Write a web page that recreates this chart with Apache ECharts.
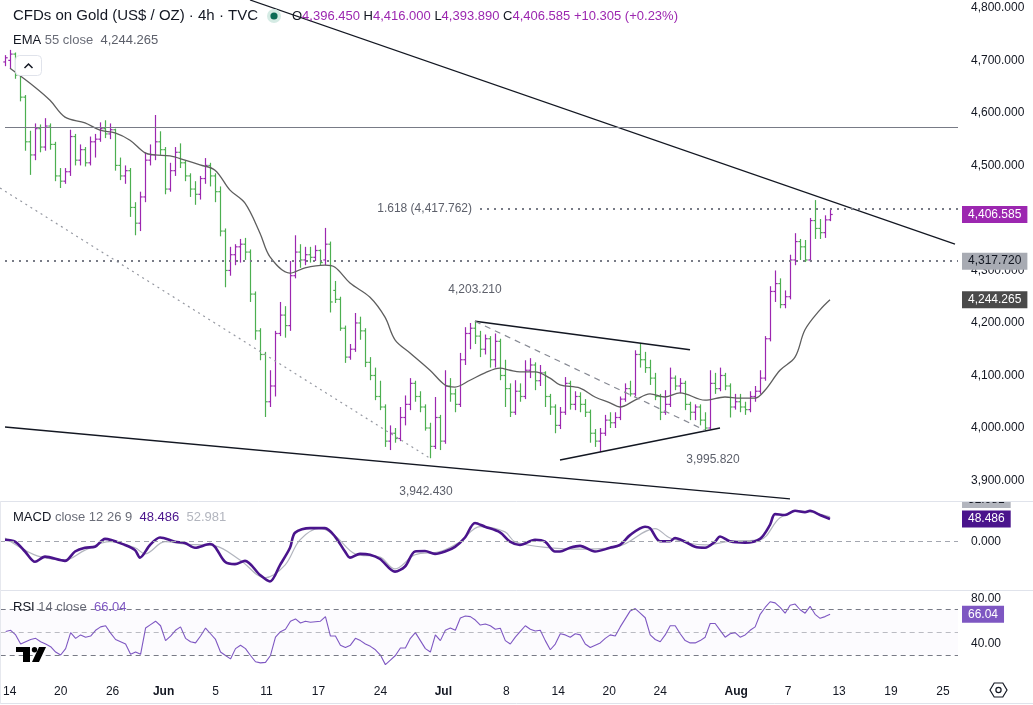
<!DOCTYPE html>
<html><head><meta charset="utf-8">
<script src="https://cdn.jsdelivr.net/npm/echarts@6/dist/echarts.min.js"></script>
<style>html,body{margin:0;padding:0;background:#fff}#c{width:1033px;height:705px}</style>
</head><body><div id="c"></div>
<script>
// ---------- DATA ----------
// 4h-style bars (open, close, low, high), one per time step
const bars = [
[4697,4705,4689,4710],[4700,4712,4684,4720],[4712,4672,4665,4715],[4672,4630,4622,4676],[4630,4545,4528,4634],[4545,4520,4482,4566],[4520,4570,4510,4580],[4570,4535,4525,4578],[4535,4575,4528,4590],[4575,4540,4530,4580],
[4540,4480,4470,4545],[4480,4470,4457,4495],[4470,4488,4465,4495],[4488,4555,4480,4568],[4555,4510,4500,4560],[4510,4530,4500,4540],[4530,4505,4498,4535],[4505,4545,4500,4555],[4545,4550,4515,4560],[4550,4570,4545,4582],
[4570,4560,4552,4586],[4560,4568,4550,4580],[4568,4500,4490,4570],[4500,4480,4472,4515],[4480,4490,4465,4500],[4490,4420,4402,4495],[4420,4390,4367,4430],[4390,4440,4375,4450],[4440,4510,4430,4525],[4510,4520,4500,4540],
[4520,4545,4510,4596],[4545,4530,4520,4565],[4530,4455,4445,4535],[4455,4490,4450,4505],[4490,4525,4480,4535],[4525,4505,4495,4542],[4505,4480,4470,4510],[4480,4455,4440,4485],[4455,4445,4425,4470],[4445,4475,4435,4480],
[4475,4500,4465,4514],[4500,4480,4460,4505],[4480,4450,4430,4485],[4450,4375,4365,4460],[4375,4300,4268,4380],[4300,4330,4290,4345],[4330,4345,4310,4350],[4345,4350,4315,4360],[4350,4335,4320,4362],[4335,4255,4240,4340],
[4255,4185,4168,4260],[4185,4140,4129,4190],[4140,4050,4021,4145],[4050,4080,4040,4110],[4080,4180,4060,4185],[4180,4215,4175,4240],[4215,4195,4172,4232],[4195,4290,4185,4318],[4290,4335,4285,4367],[4335,4320,4305,4350],
[4320,4330,4310,4345],[4330,4325,4315,4345],[4325,4338,4318,4348],[4338,4315,4310,4340],[4320,4350,4310,4381],[4350,4240,4220,4355],[4262,4245,4238,4280],[4245,4190,4185,4250],[4190,4135,4124,4195],[4135,4150,4130,4160],
[4150,4200,4145,4219],[4200,4185,4168,4212],[4185,4125,4116,4190],[4125,4100,4091,4135],[4100,4060,4053,4115],[4060,4040,4034,4090],[4040,3975,3964,4045],[3975,3990,3958,4005],[3990,3980,3972,4000],[3980,4020,3975,4040],
[4020,4045,4005,4062],[4045,4085,4034,4095],[4085,4060,4050,4090],[4060,4040,4030,4070],[4040,4000,3995,4045],[4000,3965,3942.43,4010],[3965,4020,3960,4059],[4020,3975,3958,4025],[3975,4080,3970,4110],[4080,4065,4050,4095],
[4065,4045,4030,4075],[4045,4130,4040,4143],[4130,4180,4120,4192],[4180,4190,4150,4200],[4190,4175,4160,4203.21],[4175,4150,4135,4185],[4150,4170,4140,4178],[4170,4130,4115,4175],[4130,4165,4115,4180],[4165,4100,4091,4170],
[4100,4075,4040,4130],[4075,4030,4021,4085],[4030,4070,4025,4091],[4070,4060,4050,4085],[4060,4110,4055,4129],[4110,4120,4095,4133],[4120,4090,4072,4125],[4090,4105,4080,4120],[4105,4060,4040,4108],[4060,4040,4025,4065],
[4040,4005,3990,4045],[4005,4030,3998,4040],[4030,4085,4025,4097],[4085,4045,4035,4090],[4045,4060,4034,4070],[4060,4045,4030,4068],[4045,4030,4021,4055],[4030,3990,3972,4035],[3990,3975,3964,3998],[3975,3990,3954,4000],
[3990,4015,3985,4025],[4015,4010,4000,4030],[4010,4020,4000,4030],[4020,4055,4015,4060],[4055,4075,4050,4085],[4075,4065,4060,4090],[4065,4140,4060,4148],[4140,4130,4115,4162],[4130,4115,4105,4145],[4115,4095,4082,4130],
[4095,4060,4053,4105],[4060,4030,4015,4065],[4030,4045,4025,4072],[4045,4095,4040,4115],[4095,4080,4072,4100],[4080,4085,4066,4095],[4085,4045,4034,4090],[4045,4030,4015,4050],[4030,4040,4015,4045],[4040,4015,4005,4045],
[4015,4000,3995.82,4030],[4000,4085,3998,4110],[4085,4075,4065,4105],[4075,4100,4070,4115],[4100,4080,4072,4105],[4080,4040,4020,4085],[4040,4050,4035,4065],[4050,4040,4030,4065],[4040,4035,4025,4050],[4035,4060,4030,4070],
[4060,4070,4050,4080],[4070,4095,4065,4110],[4095,4170,4090,4175],[4170,4260,4165,4270],[4260,4275,4240,4300],[4275,4235,4228,4285],[4235,4250,4228,4262],[4250,4320,4245,4330],[4320,4355,4310,4371],[4355,4345,4320,4360],
[4345,4320,4316,4358],[4320,4395,4316,4400],[4395,4380,4360,4434],[4380,4372,4360,4398],[4372,4396.28,4362,4405],[4396.45,4406.585,4393.89,4416]
];
// EMA 55 readings [bar index, value]
const emaPts = [[1,4685],[6,4649],[9,4624],[12,4592],[16,4581],[19,4567],[22,4562],[25,4548],[28,4524],[30,4520],[33,4518],[36,4510],[39,4501],[42,4491],[45,4453],[48,4428],[51,4371],[53,4326],[57,4295],[60,4305],[64,4310],[66,4306],[69,4276],[73,4249],[76,4211],[78,4168],[81,4143],[85,4110],[88,4082],[90,4078],[93,4091],[96,4105],[99,4114],[101,4110],[103,4107],[106,4107],[109,4095],[111,4082],[115,4076],[118,4059],[121,4048],[123,4040],[126,4053],[129,4065],[132,4059],[135,4067],[140,4053],[144,4059],[147,4057],[150,4057],[152,4072],[155,4110],[158,4135],[160,4187],[163,4225],[165,4244.265]];
// MACD line and signal readings [bar index, value]
const macdPts = [[0,4],[2,0],[4,-21],[6,-43],[8,-32],[12,-41],[14,-21],[16,-13],[18,-11],[20,6],[24,-7],[26,-18],[27,-34],[29,-7],[31,9],[34,0],[36,-3],[38,-13],[41,-5],[42,-11],[44,-43],[46,-48],[48,-41],[51,-71],[53,-85],[55,-50],[57,-13],[58,19],[61,29],[64,29],[66,11],[68,-21],[69,-34],[71,-26],[73,-28],[75,-37],[78,-64],[80,-53],[82,-21],[84,-20],[86,-26],[88,-21],[90,-11],[92,9],[94,40],[96,32],[99,20],[101,0],[103,-7],[106,4],[108,0],[110,-21],[111,-21],[113,-13],[115,-9],[118,-21],[121,-13],[123,-7],[125,14],[128,32],[129,29],[131,1],[133,1],[134,8],[136,0],[138,-11],[140,-13],[142,0],[143,11],[145,1],[148,-2],[151,6],[153,36],[154,59],[156,57],[158,66],[160,63],[161,66],[163,57],[165,48.486]];
const signalPts = [[0,8],[4,-18],[7,-32],[12,-39],[16,-18],[21,0],[26,-13],[28,-26],[32,0],[36,-5],[42,-9],[47,-39],[52,-77],[56,-50],[59,4],[63,29],[66,13],[70,-26],[75,-33],[78,-58],[82,-28],[87,-21],[91,0],[95,32],[100,21],[102,0],[109,-13],[116,-16],[123,-9],[130,28],[133,8],[140,-7],[145,1],[151,4],[155,51],[159,66],[165,52.981]];
// RSI 14, one value per bar
const rsiVals = [
51,52,48,40,42,44,45,42,40,37.7,
33,30.4,36,50,45,48,46,47,52,55,
56,49.6,44,42,40,31,33,31,54,57,
60,56,43,47,52,55,45,42,41,47,
54,49,44,33,30,27,36,39,36,30,
24.5,23.5,24,30,46,50.8,53,60,62,58.4,
60,59,59.5,60,64,47,47,39,37,39,
45,43,40,38,35,30.4,22,26,30,36.5,
36.5,45,50,43,36,33,48,43,52,54,
52,62.8,64.5,64,61,56.6,57.5,56,53,53.8,
43,40,46,51,56,53,51.4,52,43,35,
40,49,48,46,49,48,40,37,39,41,
45,48,47,55,62,69,71,67,63,48,
44,42,48,56,56,49,43,41,41,43,
46,58,58,52,46,49,50,46,48,52,
55,66,72,77,76,72,67,74,75,70,
67,73,66,62.5,64,66.04
];
// time axis labels at bar positions
const xTickPos = [0.8, 11, 21.4, 31.6, 42, 52.2, 62.6, 75, 87.6, 100.2, 110.6, 120.8, 131, 146.2, 156.6, 166.8, 177.2, 187.6];
const xTickText = ['14','20','26','Jun','5','11','17','24','Jul','8','14','20','24','Aug','7','13','19','25'];
const priceTicks = [3900,4000,4100,4200,4300,4400,4500,4600,4700,4800];
const macdTicks = [0];
const rsiTicks = [40,80];
// annotation levels
const resistanceLevel = 4573;
const fibLevel = 4417.762;
const supportLevel = 4317.72;
const swingHigh = [94, 4203.21];
const swingLow = [85, 3942.43];
const triangleLow = [140, 3995.82];
const topTrend = [[49, 4815], [190, 4350]];
const bottomTrend = [[0, 4002], [157, 3865]];
const channelDotted = [[-1, 4457], [85, 3942.43]];
const triUpper = [[94, 4203.21], [137, 4149]];
const triLower = [[111, 3939], [143, 4000]];
const triDashed = [[94, 4203.21], [140, 3995.82]];

// ---------- CHART ----------
const FONT = "'Liberation Sans', Arial, sans-serif";
const TXT = '#131722';
const UP = '#9c27b0', DOWN = '#4caf50';
const X_MIN = -1, X_MAX = 190.6;
const fmt = (v, d) => v.toLocaleString('en-US', {minimumFractionDigits: d, maximumFractionDigits: d});

const last = bars[bars.length - 1], prev = bars[bars.length - 2];
const chg = last[1] - prev[1];
const pct = chg / prev[1] * 100;
const lastEma = emaPts[emaPts.length - 1][1];
const lastMacd = macdPts[macdPts.length - 1][1];
const lastSignal = signalPts[signalPts.length - 1][1];
const lastRsi = rsiVals[rsiVals.length - 1];

function renderOHLC(params, api) {
  const i = api.value(0), o = api.value(1), c = api.value(2), l = api.value(3), h = api.value(4);
  const pH = api.coord([i, h]), pL = api.coord([i, l]), pO = api.coord([i, o]), pC = api.coord([i, c]);
  const x = Math.round(pH[0]) + 0.5;
  const col = c >= o ? UP : DOWN;
  return {type: 'group', children: [
    {type: 'line', shape: {x1: x, y1: pH[1], x2: x, y2: pL[1]}, style: {stroke: col, lineWidth: 1.2}},
    {type: 'line', shape: {x1: x - 2.2, y1: pO[1], x2: x, y2: pO[1]}, style: {stroke: col, lineWidth: 1.2}},
    {type: 'line', shape: {x1: x, y1: pC[1], x2: x + 2.2, y2: pC[1]}, style: {stroke: col, lineWidth: 1.2}}
  ]};
}

function xAxis(g, show) {
  return {type: 'value', gridIndex: g, min: X_MIN, max: X_MAX,
    axisLine: {show: false}, axisTick: {show: false}, splitLine: {show: false},
    axisLabel: show ? {customValues: xTickPos, margin: 8, color: TXT, fontSize: 12, fontFamily: FONT,
      formatter: v => { const k = xTickPos.findIndex(p => Math.abs(p - v) < 1e-6); const t = xTickText[k] || '';
        return /^[A-Z]/.test(t) ? '{m|' + t + '}' : t; },
      rich: {m: {fontWeight: 'bold', fontSize: 12, color: TXT, fontFamily: FONT}}} : {show: false}};
}
function yAxis(g, min, max, ticks, dec) {
  return {type: 'value', gridIndex: g, position: 'right', min: min, max: max,
    axisLine: {show: false}, axisTick: {show: false}, splitLine: {show: false},
    axisLabel: {customValues: ticks, margin: 13, color: TXT, fontSize: 12, fontFamily: FONT, formatter: v => fmt(v, dec)}};
}
function boxLabel(text, bg, fg) {
  return {show: true, position: 'end', distance: 4, formatter: text, backgroundColor: bg, color: fg,
    padding: [2, 6, 2, 6], fontSize: 12, lineHeight: 13, fontFamily: FONT};
}
const rs = (color) => ({color: color, fontSize: 13, fontFamily: FONT, fontWeight: 'normal'});
const black = {color: TXT, width: 1.3, type: 'solid'};
const seg = (pts, ls, label) => [{coord: pts[0], lineStyle: ls, label: label || {show: false}}, {coord: pts[1]}];

const option = {
  animation: false,
  backgroundColor: '#ffffff',
  textStyle: {fontFamily: FONT},
  title: [
    {left: 13, top: 8, padding: 0, text: 'CFDs on Gold (US$ / OZ) · 4h · TVC', textStyle: {fontSize: 15, fontWeight: 'normal', color: TXT, fontFamily: FONT}},
    {left: 292, top: 10, padding: 0,
      text: '{k|O}{v|' + fmt(last[0], 3) + '} {k|H}{v|' + fmt(last[3], 3) + '} {k|L}{v|' + fmt(last[2], 3) + '} {k|C}{v|' + fmt(last[1], 3) + '} {v|' + (chg >= 0 ? '+' : '') + fmt(chg, 3) + ' (' + (pct >= 0 ? '+' : '') + fmt(pct, 2) + '%)}',
      textStyle: {fontSize: 13, fontWeight: 'normal', rich: {k: rs(TXT), v: rs(UP)}}},
    {left: 13, top: 34, padding: 0, text: '{k|EMA} {p|55 close}  {v|' + fmt(lastEma, 3) + '}',
      textStyle: {fontSize: 13, fontWeight: 'normal', rich: {k: rs(TXT), p: rs('#6a6d78'), v: rs('#5d606b')}}},
    {left: 13, top: 511, padding: 0, text: '{k|MACD} {p|close 12 26 9}  {m|' + fmt(lastMacd, 3) + '}  {s|' + fmt(lastSignal, 3) + '}',
      textStyle: {fontSize: 13, fontWeight: 'normal', rich: {k: rs(TXT), p: rs('#6a6d78'), m: rs('#4a148c'), s: rs('#b2b5be')}}},
    {left: 13, top: 601, padding: 0, text: '{k|RSI} {p|14 close}  {r|' + fmt(lastRsi, 2) + '}',
      textStyle: {fontSize: 13, fontWeight: 'normal', rich: {k: rs(TXT), p: rs('#6a6d78'), r: rs('#7e57c2')}}}
  ],
  grid: [
    {left: 0, right: 75, top: 0, height: 501},
    {left: 0, right: 75, top: 502, height: 88},
    {left: 0, right: 75, top: 591, height: 87}
  ],
  xAxis: [xAxis(0, false), xAxis(1, false), xAxis(2, true)],
  yAxis: [yAxis(0, 3861, 4815, priceTicks, 3), yAxis(1, -103.2, 84.8, macdTicks, 3), yAxis(2, 10.3, 86.4, rsiTicks, 2)],
  series: [
    {type: 'custom', name: 'bars', xAxisIndex: 0, yAxisIndex: 0, z: 2, clip: true,
      renderItem: renderOHLC, encode: {x: 0, y: [1, 2, 3, 4]},
      data: bars.map((b, i) => [i, b[0], b[1], b[2], b[3]])},
    {type: 'line', name: 'EMA', xAxisIndex: 0, yAxisIndex: 0, z: 3, data: emaPts, smooth: 0.35, symbol: 'none',
      lineStyle: {color: '#5e5e5e', width: 1.3},
      markLine: {symbol: ['none', 'none'], silent: true, animation: false, z: 4,
        data: [
          seg(topTrend, black),
          seg(bottomTrend, {color: TXT, width: 1.4, type: 'solid'}),
          seg(channelDotted, {color: '#9598a1', width: 1.2, type: [2, 4]}),
          seg(triUpper, {color: TXT, width: 1.5, type: 'solid'}),
          seg(triLower, {color: TXT, width: 1.5, type: 'solid'}),
          seg(triDashed, {color: '#868993', width: 1.2, type: [6, 5]}),
          seg([[0, resistanceLevel], [X_MAX, resistanceLevel]], {color: '#787b86', width: 1.2, type: 'solid'}),
          seg([[95, fibLevel], [X_MAX, fibLevel]], {color: '#787b86', width: 2, type: [2, 5]},
            {show: true, position: 'start', distance: 8, formatter: '1.618 (' + fmt(fibLevel, 3) + ')', color: '#5d606b', fontSize: 12, fontFamily: FONT}),
          seg([[0, supportLevel], [X_MAX, supportLevel]], {color: '#787b86', width: 2, type: [2, 5]},
            boxLabel(fmt(supportLevel, 3), '#a8abb3', TXT)),
          {yAxis: lastEma, lineStyle: {color: 'transparent', width: 0}, label: boxLabel(fmt(lastEma, 3), '#4a4a4a', '#ffffff')},
          {yAxis: last[1], lineStyle: {color: 'transparent', width: 0}, label: boxLabel(fmt(last[1], 3), UP, '#ffffff')}
        ]},
      markPoint: {symbol: 'circle', symbolSize: 0, silent: true, animation: false,
        data: [
          {coord: swingHigh, label: {show: true, formatter: fmt(swingHigh[1], 3), offset: [0, -32], color: '#5d606b', fontSize: 12, fontFamily: FONT}},
          {coord: triangleLow, label: {show: true, formatter: fmt(triangleLow[1], 3), offset: [8, 29], color: '#5d606b', fontSize: 12, fontFamily: FONT}},
          {coord: swingLow, label: {show: true, formatter: fmt(swingLow[1], 3), offset: [-4, 33], color: '#5d606b', fontSize: 12, fontFamily: FONT}}
        ]}
    },
    {type: 'line', name: 'Signal', xAxisIndex: 1, yAxisIndex: 1, data: signalPts, smooth: 0.35, symbol: 'none',
      lineStyle: {color: '#b2b5be', width: 1.2}, z: 2},
    {type: 'line', name: 'MACD', xAxisIndex: 1, yAxisIndex: 1, data: macdPts, smooth: 0.3, symbol: 'none',
      lineStyle: {color: '#4a148c', width: 2.6}, z: 3,
      markLine: {symbol: ['none', 'none'], silent: true, animation: false,
        data: [
          {yAxis: 0, lineStyle: {color: '#a3a6af', width: 1, type: [5, 4]}, label: {show: false}},
          {yAxis: lastMacd, lineStyle: {color: 'transparent', width: 0}, label: boxLabel(fmt(lastMacd, 3), '#4a148c', '#ffffff')}
        ]}},
    {type: 'line', name: 'RSI', xAxisIndex: 2, yAxisIndex: 2, data: rsiVals.map((v, i) => [i, v]), symbol: 'none',
      lineStyle: {color: '#7e57c2', width: 1.1}, z: 3,
      markArea: {silent: true, itemStyle: {color: 'rgba(126,87,194,0.025)'}, data: [[{yAxis: 30}, {yAxis: 70}]]},
      markLine: {symbol: ['none', 'none'], silent: true, animation: false,
        data: [
          {yAxis: 70, lineStyle: {color: '#787b86', width: 1, type: [5, 4]}, label: {show: false}},
          {yAxis: 50, lineStyle: {color: 'rgba(120,123,134,0.5)', width: 1, type: [5, 4]}, label: {show: false}},
          {yAxis: 30, lineStyle: {color: '#787b86', width: 1, type: [5, 4]}, label: {show: false}},
          {yAxis: lastRsi, lineStyle: {color: 'transparent', width: 0}, label: boxLabel(fmt(lastRsi, 2), '#7e57c2', '#ffffff')}
        ]}}
  ],
  graphic: [
    // signal value box (mostly hidden under pane edge)
    {type: 'text', left: 962, top: 492, z: 50, style: {text: fmt(lastSignal, 3), fill: TXT, backgroundColor: '#b2b5be', padding: [2, 6, 2, 6], font: '12px ' + FONT}},
    {type: 'rect', shape: {x: 959, y: 487, width: 74, height: 14.5}, style: {fill: '#ffffff'}, z: 51},
    // pane separators and borders
    {type: 'line', shape: {x1: 0, y1: 501.5, x2: 1033, y2: 501.5}, style: {stroke: '#e0e3eb', lineWidth: 1}, z: 52},
    {type: 'line', shape: {x1: 0, y1: 590.5, x2: 1033, y2: 590.5}, style: {stroke: '#e0e3eb', lineWidth: 1}, z: 52},
    {type: 'line', shape: {x1: 0, y1: 703.5, x2: 1033, y2: 703.5}, style: {stroke: '#e0e3eb', lineWidth: 1}, z: 52},
    {type: 'line', shape: {x1: 0.5, y1: 501, x2: 0.5, y2: 704}, style: {stroke: '#e6e8ee', lineWidth: 1}, z: 52},
    // status dot
    {type: 'circle', shape: {cx: 274, cy: 16, r: 7}, style: {fill: '#d5ebe4'}, z: 52},
    {type: 'circle', shape: {cx: 274, cy: 16, r: 3.6}, style: {fill: '#0b6b55'}, z: 53},
    // collapse button
    {type: 'rect', shape: {x: 15.5, y: 55.5, width: 26, height: 20, r: 4}, style: {fill: '#ffffff', stroke: '#e0e3eb', lineWidth: 1}, z: 52},
    {type: 'polyline', shape: {points: [[24.5, 68], [28.5, 64], [32.5, 68]]}, style: {stroke: TXT, lineWidth: 1.5, fill: null}, z: 53},
    // TradingView logo
    {type: 'polygon', shape: {points: [[16, 647], [30, 647], [30, 662], [23, 662], [23, 652], [16, 652]]}, style: {fill: '#000000'}, z: 52},
    {type: 'circle', shape: {cx: 34.5, cy: 649.8, r: 2.7}, style: {fill: '#000000'}, z: 52},
    {type: 'polygon', shape: {points: [[39, 647], [46, 647], [39, 662], [32, 662]]}, style: {fill: '#000000'}, z: 52},
    // settings icon
    {type: 'polygon', shape: {points: [[990, 690], [994.2, 683], [1002.8, 683], [1007, 690], [1002.8, 697], [994.2, 697]]}, style: {fill: null, stroke: TXT, lineWidth: 1.2}, z: 52},
    {type: 'circle', shape: {cx: 998.5, cy: 690, r: 2.6}, style: {fill: null, stroke: TXT, lineWidth: 1.2}, z: 52}
  ]
};

const chart = echarts.init(document.getElementById('c'));
chart.setOption(option);
</script>
</body></html>
